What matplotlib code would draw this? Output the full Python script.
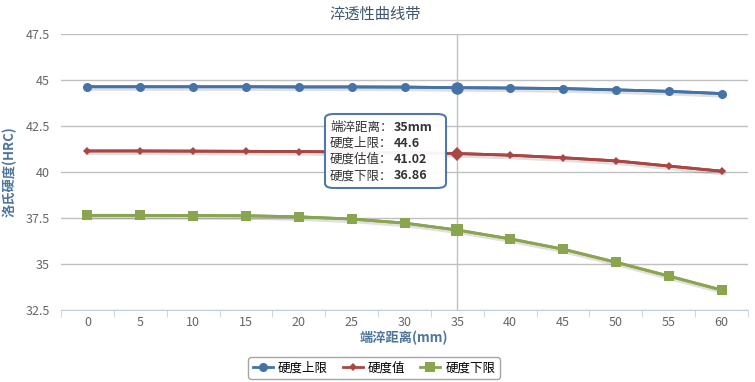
import numpy as np
import matplotlib
matplotlib.use('Agg')
import matplotlib.pyplot as plt
import matplotlib.patheffects as pe

plt.rcParams['font.family'] = ['Noto Sans CJK SC', 'DejaVu Sans']

#----DATOS----------
distancias = [0, 5, 10, 15, 20, 25, 30, 35, 40, 45, 50, 55, 60]
dureza_sup = [44.65, 44.65, 44.65, 44.65, 44.64, 44.64, 44.63, 44.6, 44.58, 44.55, 44.48, 44.4, 44.28]
dureza_val = [41.16, 41.16, 41.15, 41.14, 41.13, 41.1, 41.07, 41.02, 40.93, 40.79, 40.62, 40.34, 40.06]
dureza_inf = [37.66, 37.66, 37.65, 37.64, 37.58, 37.46, 37.24, 36.86, 36.38, 35.82, 35.11, 34.36, 33.6]
y_ticks = [32.5, 35, 37.5, 40, 42.5, 45, 47.5]
nombres = ['硬度上限', '硬度值', '硬度下限']
hover = 7

W, H = 755, 382
fig = plt.figure(figsize=(W / 100, H / 100), dpi=100)
ax = fig.add_axes([61 / W, 1 - 310.3 / H, (748 - 61) / W, (310.3 - 34.3) / H])

x = np.arange(len(distancias))
sombra = [pe.SimpleLineShadow(offset=(1, -1), alpha=0.12, linewidth=4), pe.Normal()]

series = [
    (dureza_sup, '#4572A7', 'o', 6.5, 9),
    (dureza_val, '#AA4643', 'D', 4.5, 7),
    (dureza_inf, '#89A54E', 's', 6.5, 9),
]
for (vals, col, mk, ms, ms_h), nom in zip(series, nombres):
    # linea con sombra
    ax.plot(x, vals, color=col, linewidth=2, path_effects=sombra, zorder=3)
    # marcadores
    ax.plot(x, vals, color=col, linewidth=2, marker=mk, markersize=ms,
            markeredgewidth=0, label=nom, zorder=3.5)
    ax.plot([x[hover]], [vals[hover]], color=col, marker=mk, markersize=ms_h,
            markeredgewidth=0, zorder=4)

ax.axvline(hover, color='#C0C0C0', linewidth=1, zorder=1)

ax.set_xlim(-0.5, len(distancias) - 0.5)
ax.set_ylim(32.5, 47.5)
ax.set_yticks(y_ticks)
ax.set_yticklabels([('%g' % v) for v in y_ticks])
ax.set_xticks(x)
ax.set_xticklabels([str(d) for d in distancias])
ax.set_xticks(np.arange(-0.5, len(distancias)), minor=True)
ax.tick_params(axis='x', which='major', length=0, pad=4, labelsize=9, labelcolor='#666666')
ax.tick_params(axis='x', which='minor', length=5, color='#C0D0E0', direction='out')
ax.tick_params(axis='y', length=0, pad=8, labelsize=9, labelcolor='#666666')
ax.grid(axis='y', color='#C0C0C0', linewidth=1)
ax.set_axisbelow(True)
for s in ['top', 'right', 'left']:
    ax.spines[s].set_visible(False)
ax.spines['bottom'].set_color('#C0D0E0')

fig.text(404 / W, 1 - 338 / H, '端淬距离(mm)', ha='center', va='center',
         fontsize=9.5, fontweight='bold', color='#4D759E')
fig.text(10 / W, 1 - 172 / H, '洛氏硬度(HRC)', ha='center', va='center', rotation=90,
         fontsize=9.5, fontweight='bold', color='#4D759E')
fig.text(0.497, 1 - 14 / H, '淬透性曲线带', ha='center', va='center', fontsize=11, color='#3E576F')

leg = fig.legend(loc='center', bbox_to_anchor=(374 / W, 1 - 368 / H), ncol=3,
                 fontsize=9, frameon=True, fancybox=True, handlelength=1.6,
                 columnspacing=1.2, handletextpad=0.4, borderpad=0.35)
leg.get_frame().set_edgecolor('#909090')
leg.get_frame().set_linewidth(1)

#----TOOLTIP----------
fig.patches.append(matplotlib.patches.FancyBboxPatch(
    (325 / W, 1 - 188 / H), 121 / W, 74 / H,
    boxstyle='round,pad=0,rounding_size=0.012', transform=fig.transFigure,
    facecolor='white', edgecolor='#4572A7', linewidth=1.5, alpha=0.95, zorder=10))
etiquetas = ['端淬距离：', '硬度上限：', '硬度估值：', '硬度下限：']
valores = ['%dmm' % distancias[hover], '%g' % dureza_sup[hover],
           '%g' % dureza_val[hover], '%g' % dureza_inf[hover]]
for i, (e, v) in enumerate(zip(etiquetas, valores)):
    yy = 1 - (127 + i * 16.3) / H
    fig.text(330 / W, yy, e, ha='left', va='center', fontsize=9, color='#333333', zorder=11)
    fig.text(394 / W, yy, v, ha='left', va='center', fontsize=9, color='#333333',
             fontweight='bold', zorder=11)

fig.savefig('out.png', dpi=100)
